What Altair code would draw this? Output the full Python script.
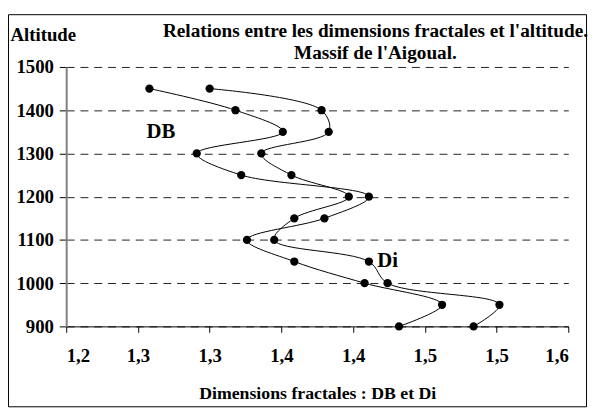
import altair as alt
import pandas as pd

# ---- data ----
altitudes = [1450, 1400, 1350, 1300, 1250, 1200, 1150, 1100, 1050, 1000, 950, 900]
db_values = [1.258, 1.318, 1.351, 1.291, 1.322, 1.411, 1.380, 1.326, 1.359, 1.408, 1.462, 1.432]
di_values = [1.300, 1.378, 1.383, 1.336, 1.357, 1.397, 1.359, 1.345, 1.411, 1.424, 1.502, 1.484]
x_ticks = [1.2, 1.25, 1.3, 1.35, 1.4, 1.45, 1.5, 1.55]
y_ticks = [900, 1000, 1100, 1200, 1300, 1400, 1500]
label_names = ["DB", "Di"]
label_x = [1.266, 1.424]
label_y = [1350, 1050]

title_lines = ["Relations entre les dimensions fractales et l'altitude.", "Massif de l'Aigoual."]
x_title = "Dimensions fractales : DB et Di"
y_title = "Altitude"

FONT = "Liberation Serif"

rows = []
for a, v in zip(altitudes, db_values):
    rows.append({"serie": "DB", "alt": a, "dim": v})
for a, v in zip(altitudes, di_values):
    rows.append({"serie": "Di", "alt": a, "dim": v})
df = pd.DataFrame(rows)
labels_df = pd.DataFrame({"txt": label_names, "dim": label_x, "alt": label_y})

W, H = 509, 263

xscale = alt.Scale(domain=[1.2, 1.55], nice=False, zero=False)
yscale = alt.Scale(domain=[900, 1500], nice=False, zero=False)

common = dict(
    labelFont=FONT, labelFontSize=19, labelFontWeight="bold", labelColor="black",
    titleFont=FONT, titleFontWeight="bold", titleColor="black",
)

x_enc = alt.X(
    "dim:Q", scale=xscale,
    axis=alt.Axis(
        values=x_ticks, title=x_title, grid=False,
        labelExpr="replace(format(datum.value + 0.0001, '.1f'), '.', ',')",
        domainColor="black", tickColor="black", tickSize=6,
        labelPadding=15, titlePadding=19, titleFontSize=18, **common,
    ),
)
y_enc = alt.Y(
    "alt:Q", scale=yscale,
    axis=alt.Axis(
        values=y_ticks, title=y_title, format="d",
        grid=True, gridDash=[8, 6], gridColor="#222", gridWidth=1,
        domainColor="#808080", domainWidth=2, tickColor="black", tickSize=7,
        labelPadding=6,
        titleAngle=0, titleAlign="left", titleBaseline="alphabetic",
        titleX=-57, titleY=-27, titleFontSize=19, **common,
    ),
)

lines = alt.Chart(df).mark_line(
    color="black", strokeWidth=1, interpolate="catmull-rom"
).encode(x=x_enc, y=y_enc, detail="serie:N", order=alt.Order("alt:Q", sort="descending"))

points = alt.Chart(df).mark_circle(size=70, color="black", opacity=1).encode(
    x=alt.X("dim:Q", scale=xscale), y=alt.Y("alt:Q", scale=yscale)
)

texts = alt.Chart(labels_df).mark_text(
    font=FONT, fontSize=21, fontWeight="bold", color="black", align="center", baseline="middle"
).encode(x=alt.X("dim:Q", scale=xscale), y=alt.Y("alt:Q", scale=yscale), text="txt:N")

border = alt.Chart(pd.DataFrame({"k": [0]})).mark_rect(
    fill=None, stroke="black", strokeWidth=1
).encode(
    x=alt.value(-58.5), x2=alt.value(527.5), y=alt.value(-53), y2=alt.value(344.5)
)

chart = alt.layer(border, lines, points, texts).properties(
    width=W, height=H,
    title=alt.Title(
        text=title_lines, anchor="middle", dx=59, offset=-50,
        font=FONT, fontSize=19.5, fontWeight="bold", lineHeight=22, color="black",
    ),
    autosize=alt.AutoSizeParams(type="none"),
    padding={"left": 59, "top": 57, "right": 21, "bottom": 84},
).configure_view(stroke=None)

chart.save("out.html", embed_options={"renderer": "svg", "actions": False})
